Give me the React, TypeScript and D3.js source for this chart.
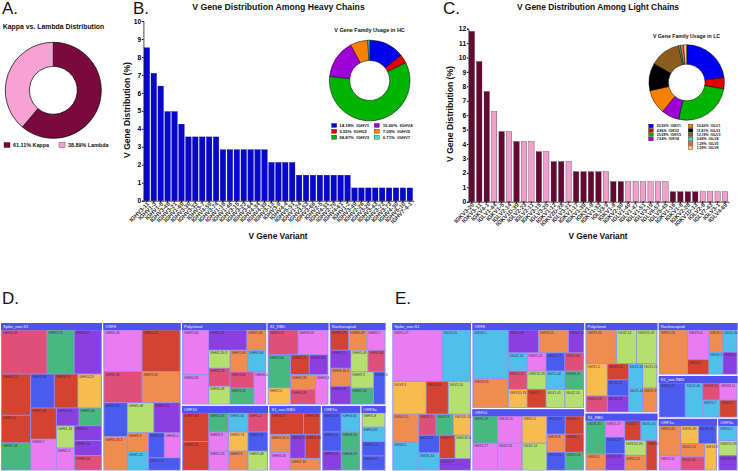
import React, { useEffect, useRef } from 'react';
import * as d3 from 'd3';

const FONT = '"Liberation Sans", Arial, sans-serif';

// Panel A
const kappaLambda = [61.11, 38.89];
const kappaLambdaNames = ['Kappa', 'Lambda'];

// Panel B
const heavyGenes = ['IGHV3-11', 'IGHV1-3', 'IGHV1-8', 'IGHV3-48', 'IGHV3-21', 'IGHV1-69', 'IGHV3-30', 'IGHV3-33', 'IGHV3-7', 'IGHV4-59', 'IGHV3-74', 'IGHV1-18', 'IGHV1-46', 'IGHV3-15', 'IGHV3-23', 'IGHV3-64', 'IGHV4-34', 'IGHV4-39', 'IGHV3-13', 'IGHV3-9', 'IGHV4-4', 'IGHV5-51', 'IGHV1-24', 'IGHV3-53', 'IGHV3-66', 'IGHV2-5', 'IGHV4-31', 'IGHV2-70', 'IGHV4-61', 'IGHV1-2', 'IGHV3-49', 'IGHV2-26', 'IGHV3-20', 'IGHV3-43', 'IGHV3-72', 'IGHV3-73', 'IGHV4-30', 'IGHV5-10', 'IGHV7-4-1'];
const heavyValues = [8.51, 7.09, 6.38, 4.96, 4.96, 4.26, 3.55, 3.55, 3.55, 3.55, 3.55, 2.84, 2.84, 2.84, 2.84, 2.84, 2.84, 2.84, 2.13, 2.13, 2.13, 2.13, 1.42, 1.42, 1.42, 1.42, 1.42, 1.42, 1.42, 1.42, 0.71, 0.71, 0.71, 0.71, 0.71, 0.71, 0.71, 0.71, 0.71];
const heavyFamilies = ['IGHV1', 'IGHV2', 'IGHV3', 'IGHV4', 'IGHV5', 'IGHV7'];
const heavyFamilyValues = [14.18, 3.55, 58.87, 15.6, 7.09, 0.71];

// Panel C
const lightGenes = ['IGKV3-20', 'IGKV3-11', 'IGKV4-1', 'IGLV1-44', 'IGKV1-5', 'IGLV2-14', 'IGKV1D-39', 'IGLV2-23', 'IGLV2-11', 'IGKV3-15', 'IGLV3-25', 'IGKV1-12', 'IGKV2D-28', 'IGLV3-21', 'IGKV1-17', 'IGKV1-39', 'IGKV1-9', 'IGKV1-33', 'IGLV3-9', 'IGKV1-6', 'IGKV2-30', 'IGLV1-40', 'IGLV1-47', 'IGLV1-51', 'IGLV3-19', 'IGLV6-57', 'IGLV5-45', 'IGKV1-16', 'IGKV1-8', 'IGKV2-28', 'IGKV1D-13', 'IGLV2-8', 'IGLV7-43', 'IGLV3-1', 'IGLV4-69'];
const lightValues = [11.81, 9.72, 7.64, 6.25, 4.86, 4.86, 4.17, 4.17, 4.17, 3.47, 3.47, 2.78, 2.78, 2.78, 2.08, 2.08, 2.08, 2.08, 2.08, 1.39, 1.39, 1.39, 1.39, 1.39, 1.39, 1.39, 1.39, 0.69, 0.69, 0.69, 0.69, 0.69, 0.69, 0.69, 0.69];
const lightFamilies = ['IGKV1', 'IGKV2', 'IGKV3', 'IGKV4', 'IGLV1', 'IGLV2', 'IGLV3', 'IGLV4', 'IGLV5', 'IGLV9'];
const lightFamilyValues = [22.92, 4.86, 25.69, 7.64, 10.42, 11.81, 13.19, 0.69, 1.39, 1.39];

const yTicksB = [0, 1, 2, 3, 4, 5, 6, 7, 8, 9, 10];
const yTicksC = [0, 1, 2, 3, 4, 5, 6, 7, 8, 9, 10, 11, 12];

const familyColors = ['#0000f0', '#e00000', '#00b400', '#a000d8', '#f88000', '#000000', '#8c5c1e', '#40e0c0', '#f06050', '#f8d060'];
const heavyFamilyColors = ['#0000f0', '#e00000', '#00b400', '#a000d8', '#f88000', '#40e0c0'];

// Treemap colour codes
const PK = '#e87cf0', BL = '#4a5cf0', PU = '#8a3fe0', RD = '#d4432f', RO = '#e04f78';
const OR = '#ef8c50', GR = '#47b87f', LI = '#b5e070', SK = '#4fc0ea', YE = '#f6bc4e';

type Leaf = [string, number, string?];
type Split = { dir: 'row' | 'col'; kids: TreeNode[] };
type TreeNode = Leaf | Split;
const row = (...kids: TreeNode[]): Split => ({ dir: 'row', kids });
const col = (...kids: TreeNode[]): Split => ({ dir: 'col', kids });

// Panel D: clone counts per V gene
const dSpike = col(
  row(['IGHV4-39', 5, RO], ['IGHV3-74', 3, GR], ['IGHV4-61', 3, PU]),
  row(
    col(['IGHV3-21', 3, RD], ['IGHV1-2', 2, RD], ['IGHV1-18', 2, GR]),
    col(
      row(['IGHV3-30', 2, BL], ['IGHV3-73', 2, RD], ['IGHV3-23', 2, YE]),
      row(
        col(['IGHV1-69', 2, RD], ['IGHV3-7', 2, PK]),
        col(
          row(['IGHV3-64', 1, PU], ['IGHV3-38', 1, GR]),
          row(col(['IGHV1-24', 1, LI], ['IGHV1-2', 1, PK]), col(['IGHV2-5', 1, PU], ['IGHV1-46', 1, PU], ['IGHV3-66', 1, RO])),
        ),
      ),
    ),
  ),
);
const dOrf8 = col(
  row(col(['IGHV3-30', 4, PK], ['IGHV3-48', 3, RO]), col(['IGHV3-23', 4, RD], ['IGHV3-33', 3, OR])),
  row(
    col(['IGHV4-59', 2, BL], ['IGHV3-30-3', 2, OR]),
    col(
      row(['IGHV5-48', 2, LI], ['IGHV5-51', 2, PU]),
      row(col(['IGHV3-9', 1, OR], ['IGHV5-21', 1, SK]), col(row(['IGHV4-31', 1, BL], ['IGHV4-4', 1, PK]), ['IGHV3-15', 1, BL])),
    ),
  ),
);
const dPoly = row(
  col(['IGHV3-30', 3, PK], ['IGHV4-34', 2, PK]),
  col(
    row(['IGHV3-21', 2, PU], ['IGHV1-46', 1, OR]),
    row(
      col(['IGHV3-30-3', 1, LI], ['IGHV3-33', 1, RO], ['IGHV3-48', 1, LI]),
      col(
        row(['IGHV1-69', 1, OR], ['IGHV3-64', 1, SK]),
        row(col(['IGHV3-66', 1, RO], ['IGHV3-43', 1, GR]), ['IGHV4-4', 1, PK]),
      ),
    ),
  ),
);
const dS1Rbd = col(
  row(['IGHV3-15', 2, RO], ['IGHV3-53', 2, PK]),
  row(
    col(['IGHV3-30', 2, GR], ['IGHV2-5', 1, YE]),
    col(
      row(['IGHV3-21', 1, RD], ['IGHV3-38', 1, PU]),
      row(col(['IGHV3-33', 1, OR], ['IGHV3-48', 1, RO]), ['IGHV4-4', 1, PK]),
    ),
  ),
);
const dNucleo = col(
  row(['IGHV1-69', 1, RD], ['IGHV3-48', 1, OR], ['IGHV3-7', 1, PK]),
  row(
    col(['IGHV3-11', 1, PU], ['IGHV3-30-3', 1, OR], ['IGHV4-39', 1, PU]),
    col(
      row(['IGHV3-49', 1, LI], ['IGHV3-66', 1, RO]),
      row(col(['IGHV3-9', 1, LI], ['IGHV3-30', 1, GR]), ['IGHV1-8', 1, BL]),
    ),
  ),
);
const dOrf10 = row(
  col(['IGHV1-69', 2, RD], ['IGHV3-21', 2, RD]),
  col(
    row(['IGHV3-33', 1, GR], ['IGHV3-30', 1, SK], ['IGHV1-2', 1, RO]),
    row(['IGHV3-3', 1, PK], ['IGHV3-74', 1, YE], ['IGHV4-31', 1, BL]),
    row(['IGHV1-03', 1, PK], ['IGHV3-9', 1, OR], ['IGHV3-48', 1, LI]),
  ),
);
const dS1NonRbd = col(
  row(['IGHV3-21', 2, RD], ['IGHV1-69', 1, RD]),
  row(
    col(['IGHV3-30-3', 1, OR], ['IGHV3-30', 1, PK]),
    col(row(['IGHV3-15', 1, PU], ['IGHV3-48', 1, RD]), ['IGHV3-33', 1, OR]),
  ),
);
const dOrf1a = row(
  col(['IGHV4-59', 1, BL], ['IGHV3-11', 1, BL], ['IGHV5-51', 1, PU]),
  col(['IGHV4-61', 1, SK], ['IGHV3-74', 1, GR], ['IGHV3-13', 1, GR]),
);
const dOrf3a = col(['IGHV1-8', 1, LI], ['IGHV4-61', 1, SK], ['IGHV5-10', 1, BL], ['IGHV4-59', 1, BL]);

// Panel E: clone counts per V gene
const eSpike = col(
  row(['IGKV1-17', 7, PK], ['IGLV3-25', 4, SK]),
  row(['IGLV3-9', 3, YE], ['IGKV3-20', 2, RD], ['IGLV2-14', 2, LI]),
  row(
    col(['IGKV3-15', 2, OR], ['IGKV4-1', 2, SK]),
    col(
      row(['IGKV1-9', 1, RO], ['IGLV2-8', 1, GR], ['IGKV1D-16', 1, YE]),
      row(col(['IGLV3-21', 1, BL], ['IGKV1-44', 1, SK]), col(row(['IGKV3-7', 1, RD], ['IGKV1D-8', 1, LI]), ['IGLV3-27', 1, PU])),
    ),
  ),
);
const eOrf8 = row(
  col(['IGKV4-1', 5, SK], ['IGKV3-20', 3, OR]),
  col(
    row(['IGKV1-39', 2, PU], ['IGKV3-15', 2, OR], ['IGKV3-11', 1, PU]),
    row(['IGLV2-23', 1, SK], ['IGKV1-11', 1, PK], ['IGKV1-17', 1, BL], ['IGLV1-40', 1, RO]),
    row(['IGKV1-12', 1, RO], ['IGKV1D-39', 1, LI], ['IGLV1-44', 1, SK], ['IGKV3-15', 1, GR]),
    row(['IGKV1D-33', 1, YE], ['IGKV3-7', 1, RD], ['IGLV1-41', 1, LI], ['IGLV2-14', 1, LI]),
  ),
);
const eOrf10 = row(
  col(row(['IGKV1-39', 2, GR], ['IGKV3-11', 2, PK], ['IGKV1-5', 2, YE]), row(['IGLV1-17', 2, PK], ['IGLV2-51', 2, PK], ['IGLV2-14', 2, LI])),
  col(['IGKV1-27', 1, BL], ['IGKV2-8', 1, OR], ['IGLV1-51', 1, BL]),
  col(['IGLV3-1', 1, RD], ['IGKV3-7', 1, RD], ['IGKV1-16', 1, GR]),
);
const ePoly = col(
  row(['IGKV3-20', 3, OR], ['IGLV2-14', 2, LI], ['IGKV1D-39', 2, LI]),
  row(
    col(['IGKV1-5', 2, YE], ['IGKV2-28', 1, RO]),
    col(['IGKV3-15', 1, RD], ['IGLV1-51', 1, BL], ['IGLV3-25', 1, PU]),
    col(['IGLV1-40', 1, SK], ['IGLV1-44', 1, SK]),
    col(['IGLV3-21', 1, LI], ['IGKV1-9', 1, OR]),
  ),
);
const eS1Rbd = row(
  col(['IGLV3-25', 2, GR], ['IGKV4-1', 1, OR]),
  col(['IGKV1-17', 1, PK], ['IGKV1-27', 1, BL], ['IGKV1-39', 1, PU]),
  col(
    row(['IGLV3-1', 1, RD], ['IGLV1-44', 1, SK]),
    row(col(['IGKV1D-39', 1, LI], ['IGKV3-20', 1, OR]), ['IGKV3-7', 1, RD]),
  ),
);
const eNucleo = row(
  ['IGKV3-20', 4, OR],
  col(['IGKV3-11', 2, PK], ['IGKV3-1', 1, RD]),
  col(row(['IGKV1-5', 1, OR], ['IGLV1-40', 1, SK]), row(['IGKV4-1', 1, SK], ['IGKV1-9', 1, PU])),
);
const eS1NonRbd = row(
  ['IGKV3-20', 3, BL],
  ['IGLV1-40', 2, SK],
  col(row(['IGKV3-15', 1, RO], ['IGKV3-11', 1, PK]), row(['IGKV1-7', 1, SK], ['IGLV3-1', 1, RD])),
);
const eOrf1a = row(
  col(['IGKV3-20', 2, OR], ['IGKV3-11', 1, PK]),
  col(
    row(['IGKV1-39', 1, YE], ['IGLV3-25', 1, BL]),
    row(col(['IGLV2-14', 1, OR], ['IGLV1-40', 1, RO]), ['IGKV1-9', 1, YE]),
  ),
);
const eOrf3a = col(['IGKV4-1', 1, SK], ['IGKV1D-39', 1, LI], ['IGKV3D-15', 1, PU]);

// Outer arrangement of the groups, weighted by the area each group takes
const dGroups = row(
  ['Spike_non-S1', 14600],
  ['ORF8', 11242],
  col(
    row(['Polyclonal', 6800], ['S1_RBD', 4941], ['Nucleocapsid', 4536]),
    row(['ORF10', 5525], ['S1_non-RBD', 3328], ['ORF1a', 2496], ['ORF3a', 1600]),
  ),
);
const dCells: Record<string, Split> = { 'Spike_non-S1': dSpike, ORF8: dOrf8, Polyclonal: dPoly, S1_RBD: dS1Rbd, Nucleocapsid: dNucleo, ORF10: dOrf10, 'S1_non-RBD': dS1NonRbd, ORF1a: dOrf1a, ORF3a: dOrf3a };
const eGroups = row(
  ['Spike_non-S1', 11466],
  col(['ORF8', 9383], ['ORF10', 6814]),
  col(['Polyclonal', 6386], ['S1_RBD', 4104]),
  col(['Nucleocapsid', 4080], ['S1_non-RBD', 3304], row(['ORF1a', 3035], ['ORF3a', 1050])),
);
const eCells: Record<string, Split> = { 'Spike_non-S1': eSpike, ORF8: eOrf8, ORF10: eOrf10, Polyclonal: ePoly, S1_RBD: eS1Rbd, Nucleocapsid: eNucleo, 'S1_non-RBD': eS1NonRbd, ORF1a: eOrf1a, ORF3a: eOrf3a };

const isLeaf = (d: TreeNode): d is Leaf => Array.isArray(d);
const tile = (node: any, x0: number, y0: number, x1: number, y1: number) =>
  (node.data.dir === 'row' ? d3.treemapDice : d3.treemapSlice)(node, x0, y0, x1, y1);

function layoutTree(tree: TreeNode, w: number, h: number, gap: number) {
  const root = d3.hierarchy<TreeNode>(tree, d => (isLeaf(d) ? null : d.kids)).sum(d => (isLeaf(d) ? d[1] : 0));
  return d3.treemap<TreeNode>().tile(tile as any).size([w, h]).paddingInner(gap)(root).leaves();
}

function drawTreemap(svg: any, groups: Split, cells: Record<string, Split>, x: number, y: number, w: number, h: number) {
  const g = svg.append('g').attr('transform', `translate(${x},${y})`);
  layoutTree(groups, w, h, 1.4).forEach((n: any) => {
    const name = n.data[0];
    const gw = n.x1 - n.x0, gh = n.y1 - n.y0;
    const box = g.append('g').attr('transform', `translate(${n.x0},${n.y0})`);
    box.append('rect').attr('width', gw).attr('height', gh).attr('fill', '#8f90f5');
    box.append('rect').attr('width', gw).attr('height', 7).attr('fill', '#5052f0');
    box.append('text').attr('x', 2).attr('y', 4.9).attr('font-size', 4).attr('fill', '#f2f2ff').text(name);
    const inner = box.append('g').attr('transform', 'translate(1,7.3)');
    layoutTree(cells[name], gw - 2, gh - 8, 0.9).forEach((c: any) => {
      inner.append('rect')
        .attr('x', c.x0).attr('y', c.y0)
        .attr('width', c.x1 - c.x0).attr('height', c.y1 - c.y0)
        .attr('fill', c.data[2]);
      inner.append('text')
        .attr('x', c.x0 + 1).attr('y', c.y0 + 3.8)
        .attr('font-size', 3.2).attr('fill', '#3a2a4a')
        .text(c.data[0]);
    });
  });
}

function drawDonut(svg: any, cx: number, cy: number, r: number, inner: number, values: number[], colors: string[], sw: number) {
  const arcs = d3.pie<number>().sort(null)(values);
  const arc = d3.arc<d3.PieArcDatum<number>>().innerRadius(inner).outerRadius(r);
  svg.append('g').attr('transform', `translate(${cx},${cy})`)
    .selectAll('path').data(arcs).join('path')
    .attr('d', arc as any)
    .attr('fill', (_: any, i: number) => colors[i])
    .attr('stroke', '#000').attr('stroke-width', sw);
}

function drawBars(svg: any, genes: string[], values: number[], ticks: number[], x0: number, x1: number, yTop: number, yBase: number, fillOf: (i: number) => string, strokeColor: string, gap: number) {
  const x = d3.scaleBand().domain(genes).range([x0, x1]).paddingInner(gap).paddingOuter(0.1);
  const y = d3.scaleLinear().domain([0, ticks[ticks.length - 1]]).range([yBase, yTop]);
  svg.append('g').selectAll('rect').data(genes).join('rect')
    .attr('x', (d: string) => x(d))
    .attr('y', (_: string, i: number) => y(values[i]))
    .attr('width', x.bandwidth())
    .attr('height', (_: string, i: number) => yBase - y(values[i]))
    .attr('fill', (_: string, i: number) => fillOf(i))
    .attr('stroke', strokeColor).attr('stroke-width', 0.3);
  const yAxis = svg.append('g').attr('transform', `translate(${x0},0)`)
    .call(d3.axisLeft(y).tickValues(ticks).tickSize(1.5).tickPadding(0.8));
  yAxis.selectAll('text').attr('font-size', 6.6).attr('font-weight', 'bold').attr('font-family', FONT);
  const xAxis = svg.append('g').attr('transform', `translate(0,${yBase})`)
    .call(d3.axisBottom(x).tickSize(1.5).tickPadding(1));
  xAxis.selectAll('text')
    .attr('font-size', 5.8).attr('font-weight', 'bold').attr('font-family', FONT).attr('fill', '#333')
    .attr('text-anchor', 'end')
    .attr('transform', 'rotate(-45)').attr('dx', '-0.1em').attr('dy', '0.35em');
  svg.selectAll('.domain').attr('stroke-width', 0.7);
}

function label(svg: any, x: number, y: number, t: string, size: number, bold = true, anchor = 'middle') {
  return svg.append('text').attr('x', x).attr('y', y).attr('font-size', size)
    .attr('font-weight', bold ? 'bold' : 'normal').attr('text-anchor', anchor).attr('fill', '#111').text(t);
}

function familyLegend(svg: any, x: number, y: number, dy: number, size: number, names: string[], values: number[], colors: string[], textGap: number, font: number) {
  names.forEach((n, i) => {
    svg.append('rect').attr('x', x).attr('y', y + i * dy).attr('width', size).attr('height', size * 0.78)
      .attr('fill', colors[i]).attr('stroke', '#000').attr('stroke-width', 0.3);
    label(svg, x + textGap, y + i * dy + size * 0.68, `${values[i].toFixed(2)}%  ${n}`, font, true, 'start').attr('xml:space', 'preserve');
  });
}

export default function App() {
  const ref = useRef<SVGSVGElement>(null);

  useEffect(() => {
    if (!ref.current) return;
    const svg = d3.select(ref.current);
    svg.selectAll('*').remove();
    svg.attr('font-family', FONT);

    // panel letters
    label(svg, 2, 14, 'A.', 17, false, 'start');
    label(svg, 133, 14, 'B.', 17, false, 'start');
    label(svg, 443, 14, 'C.', 17, false, 'start');
    label(svg, 2, 304, 'D.', 17, false, 'start');
    label(svg, 395, 304, 'E.', 17, false, 'start');

    // A
    label(svg, 53.5, 29, 'Kappa vs. Lambda Distribution', 6.9);
    drawDonut(svg, 53.3, 90.3, 48, 24, kappaLambda, ['#7a0a3e', '#f6a2d2'], 0.7);
    [[4, 0], [59, 1]].forEach(([lx, i]) => {
      svg.append('rect').attr('x', lx).attr('y', 142.5).attr('width', 6).attr('height', 5)
        .attr('fill', i ? '#f6a2d2' : '#7a0a3e').attr('stroke', '#000').attr('stroke-width', 0.3);
      label(svg, lx + 9, 147.2, `${kappaLambda[i].toFixed(2)}% ${kappaLambdaNames[i]}`, 5.4, true, 'start');
    });

    // B
    label(svg, 278.5, 10, 'V Gene Distribution Among Heavy Chains', 8.7);
    drawBars(svg, heavyGenes, heavyValues, yTicksB, 143.4, 413.3, 21, 200.7, () => '#0808cc', '#0000a0', 0.2);
    label(svg, 278, 239, 'V Gene Variant', 8.4);
    label(svg, 0, 0, 'V Gene Distribution (%)', 8.6).attr('transform', 'translate(130,110) rotate(-90)');
    label(svg, 369.5, 32, 'V Gene Family Usage in HC', 5.4);
    drawDonut(svg, 369.7, 80.5, 40.3, 20, heavyFamilyValues, heavyFamilyColors, 0.5);
    familyLegend(svg, 331.7, 123.5, 5.9, 5, heavyFamilies.slice(0, 3), heavyFamilyValues.slice(0, 3), heavyFamilyColors.slice(0, 3), 7.6, 4.3);
    familyLegend(svg, 374.3, 123.5, 5.9, 5, heavyFamilies.slice(3), heavyFamilyValues.slice(3), heavyFamilyColors.slice(3), 8.4, 4.3);

    // C
    const lambdaFlags = lightGenes.map(g => g.startsWith('IGL'));
    label(svg, 598, 10, 'V Gene Distribution Among Light Chains', 8.4);
    drawBars(svg, lightGenes, lightValues, yTicksC, 468.4, 728.5, 28.7, 201.7, i => (lambdaFlags[i] ? '#f0a0cc' : '#640a32'), '#30081c', 0.28);
    label(svg, 598, 238.5, 'V Gene Variant', 8.4);
    label(svg, 0, 0, 'V Gene Distribution (%)', 8.6).attr('transform', 'translate(453,114) rotate(-90)');
    label(svg, 686.5, 38, 'V Gene Family Usage in LC', 5.2);
    drawDonut(svg, 686.7, 82.5, 37.7, 18.3, lightFamilyValues, familyColors, 0.5);
    familyLegend(svg, 648.7, 124.2, 4.35, 4.6, lightFamilies.slice(0, 4), lightFamilyValues.slice(0, 4), familyColors.slice(0, 4), 8, 3.5);
    familyLegend(svg, 688.3, 124.2, 4.35, 4.6, lightFamilies.slice(4), lightFamilyValues.slice(4), familyColors.slice(4), 8.4, 3.5);

    // D and E
    drawTreemap(svg, dGroups, dCells, 1, 323, 384.5, 147.5);
    drawTreemap(svg, eGroups, eCells, 392.3, 323, 345.2, 147.5);
  }, []);

  return <svg ref={ref} width={738} height={471} style={{ position: 'absolute', left: 0, top: 0, background: '#fff' }} />;
}
